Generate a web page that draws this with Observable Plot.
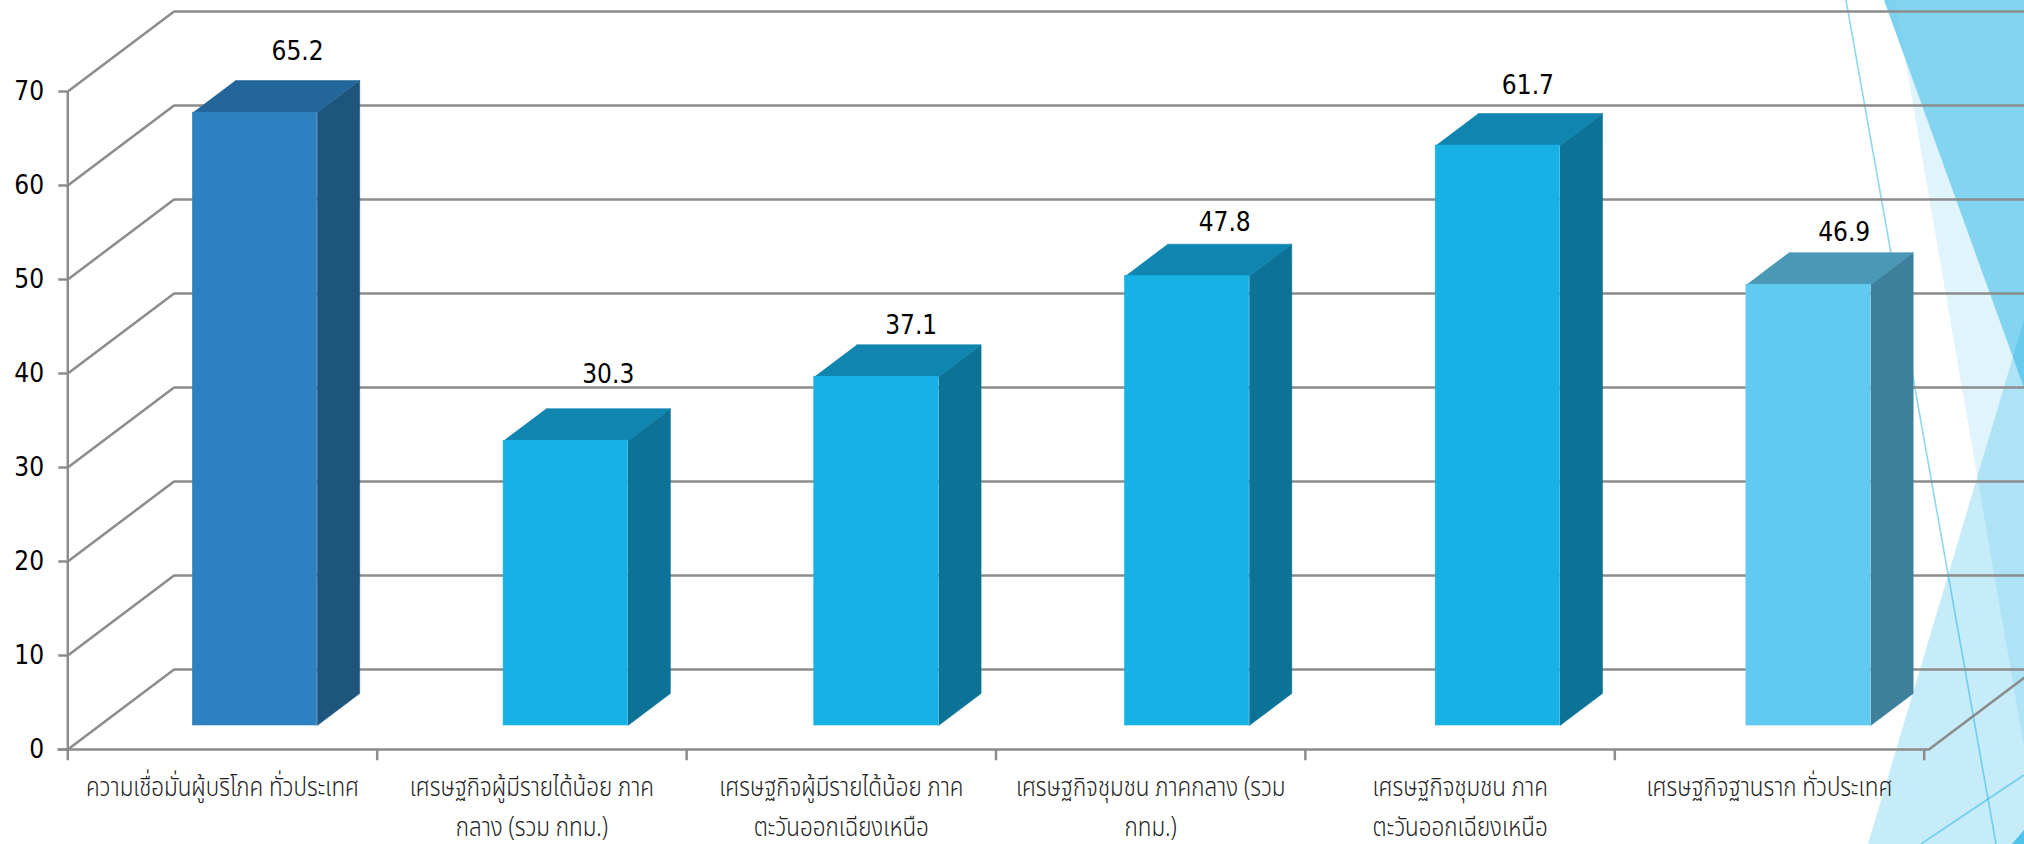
<!DOCTYPE html>
<html><head><meta charset="utf-8">
<script src="https://cdn.jsdelivr.net/npm/d3@7"></script>
<script src="https://cdn.jsdelivr.net/npm/@observablehq/plot@0.6"></script>
<style>
html,body{margin:0;padding:0;background:#fff;width:2024px;height:844px;overflow:hidden}
#deco,#chart{position:absolute;left:0;top:0}
</style></head><body>
<svg id="deco" width="2024" height="844">
<polygon points="1905,58 2024,388 2024,747" fill="#1BB0E6" opacity=".14"/>
<polygon points="1884,0 2024,0 2024,388" fill="#1BB0E6" opacity=".55"/>
<polygon points="1884,0 1895,0 1905,58" fill="#1BB0E6" opacity=".06"/>
<polygon points="1868,844 2024,320 2024,844" fill="#1BB0E6" opacity=".25"/>
<polygon points="2012,844 2024,830 2024,844" fill="#1BB0E6" opacity=".7"/>
<line x1="1846" y1="0" x2="1996" y2="844" stroke="#1BB0E6" stroke-opacity=".5" stroke-width="1.6"/>
<line x1="1921" y1="844" x2="2024" y2="775" stroke="#1BB0E6" stroke-opacity=".5" stroke-width="1.6"/>
</svg>
<div id="chart"></div>
<script>
const categories = [
 "ความเชื่อมั่นผู้บริโภค ทั่วประเทศ",
 "เศรษฐกิจผู้มีรายได้น้อย ภาค\nกลาง (รวม กทม.)",
 "เศรษฐกิจผู้มีรายได้น้อย ภาค\nตะวันออกเฉียงเหนือ",
 "เศรษฐกิจชุมชน ภาคกลาง (รวม\nกทม.)",
 "เศรษฐกิจชุมชน ภาค\nตะวันออกเฉียงเหนือ",
 "เศรษฐกิจฐานราก ทั่วประเทศ"
];
const values = [65.2, 30.3, 37.1, 47.8, 61.7, 46.9];
const yTicks = [0,10,20,30,40,50,60,70];

const frontColors = ["#2E81C1","#17B1E6","#17B1E6","#17B1E6","#17B1E6","#60CAF0"];
const sideColors  = ["#1E557C","#0D7396","#0D7396","#0D7396","#0D7396","#3E7F9B"];
const topColors   = ["#23669A","#0F85B0","#0F85B0","#0F85B0","#0F85B0","#4A98B6"];
const labelNudge  = [[0,3.1],[0,3.6],[-.025,2.0],[-.016,2.3],[-.04,3.0],[-.022,2.1]];

// oblique projection of the 3-D box: depth z in 0..1 shifts in data units
const DX = 0.342, DY = 8.51;
const Z0 = 0.3, Z1 = 0.7, BW = 0.4;
const px = (i,u,z) => i + 0.5 - BW/2 + u*BW + DX*z;
const py = (v,z) => v + DY*z;

const poly = (id,fill,pts) => pts.map(([x,y]) => ({id,fill,x,y}));
const faces = values.flatMap((v,i) => [
  ...poly("s"+i, sideColors[i], [[px(i,1,Z0),py(0,Z0)],[px(i,1,Z1),py(0,Z1)],[px(i,1,Z1),py(v,Z1)],[px(i,1,Z0),py(v,Z0)]]),
  ...poly("t"+i, topColors[i],  [[px(i,0,Z0),py(v,Z0)],[px(i,1,Z0),py(v,Z0)],[px(i,1,Z1),py(v,Z1)],[px(i,0,Z1),py(v,Z1)]])
]);
const fronts = values.map((v,i) => ({x1:px(i,0,Z0),x2:px(i,1,Z0),y1:py(0,Z0),y2:py(v,Z0),fill:frontColors[i]}));
const grid = yTicks.flatMap(t => [
  {id:t,x:0,y:t},{id:t,x:DX,y:t+DY},{id:t,x:6.5,y:t+DY}
]);
const floorEdge = [{x:-0.03,y:0},{x:5.99,y:0},{x:5.99+DX,y:DY}];
const tickScale = 309.4/310.7;
const xTicks = d3.range(0,7).map(k=>k*tickScale);

const font = "'DejaVu Sans Condensed','DejaVu Sans',sans-serif";
const gray = "#8C8C8C";
const squeeze = (index, scales, values, dims, ctx, next) => {
  const g = next(index, scales, values, dims, ctx);
  d3.select(g).selectAll("text").attr("transform", function(){ return this.getAttribute("transform")+" scale(.83,1)"; });
  return g;
};
const plot = Plot.plot({
  width:2024,height:844,margin:0,
  style:{background:"transparent",overflow:"visible"},
  x:{domain:[0,6],range:[67.3,1931.5],axis:null},
  y:{domain:[0,70],range:[749,91],axis:null},
  marks:[
    Plot.line(grid,{x:"x",y:"y",z:"id",stroke:gray,strokeWidth:2.5}),
    Plot.line(floorEdge,{x:"x",y:"y",stroke:gray,strokeWidth:2.5}),
    Plot.ruleX([0],{y1:0,y2:70,stroke:gray,strokeWidth:2.5}),
    Plot.ruleY(yTicks,{y:d=>d,x1:-0.029,x2:0,stroke:gray,strokeWidth:2.5}),
    Plot.ruleX(xTicks,{y1:0,y2:-1.2,stroke:gray,strokeWidth:2.5}),
    Plot.line(faces,{x:"x",y:"y",z:"id",fill:"fill",stroke:"fill",strokeWidth:0.6}),
    Plot.rect(fronts,{x1:"x1",x2:"x2",y1:"y1",y2:"y2",fill:"fill",stroke:"fill",strokeWidth:0.6}),
    Plot.text(values,{x:(v,i)=>px(i,0.5,Z1)+labelNudge[i][0],y:(v,i)=>py(v,Z1)+labelNudge[i][1],text:d=>d.toFixed(1),
      fontFamily:font,fontSize:26,fill:"#000"}),
    Plot.text(yTicks,{x:()=>-0.115,y:d=>d,text:d=>String(d),textAnchor:"end",dx:12,fontFamily:font,fontSize:26,fill:"#000"}),
    Plot.text(categories,{x:(d,i)=>(i+0.5)*tickScale,y:()=>-1.9,text:d=>d,lineHeight:1.48,lineAnchor:"top",
      fontFamily:"'Noto Sans Thai','Noto Sans',Tahoma,sans-serif",fontSize:27,fontWeight:300,fill:"#222",render:squeeze})
  ]
});
document.getElementById("chart").appendChild(plot);
</script>
</body></html>
